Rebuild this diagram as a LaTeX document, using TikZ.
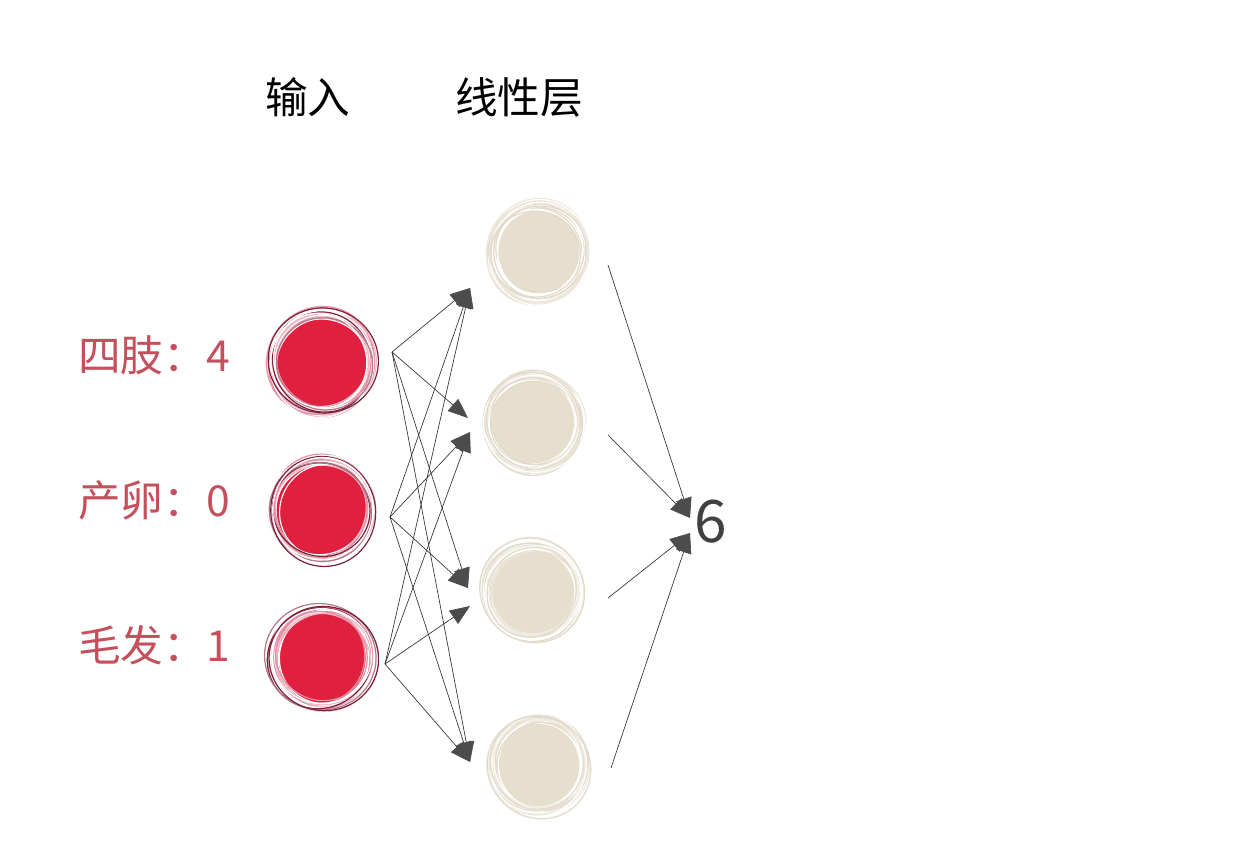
\documentclass[tikz,border=0pt]{standalone}
\usepackage{fontspec}
\usepackage{xcolor}
\newfontfamily\cjk{Noto Sans CJK SC}
\usetikzlibrary{arrows.meta,calc}

\definecolor{inred}{HTML}{E0203F}
\definecolor{ringpink}{HTML}{E58FA3}
\definecolor{ringdark}{HTML}{7A2038}
\definecolor{labred}{HTML}{C4505C}
\definecolor{beige}{HTML}{E7DFCD}
\definecolor{ringbeige}{HTML}{E2DACA}

\tikzset{
  incircle/.style={circle, minimum size=68pt, inner sep=0pt, fill=inred},
  hidcircle/.style={circle, minimum size=62pt, inner sep=0pt, fill=beige},
  wire/.style={black!80, line width=0.5pt,
    -{Triangle[length=15pt, width=12pt, color=black!70, fill=black!70]}},
  label/.style={font=\cjk\fontsize{32}{36}\selectfont, anchor=west, inner sep=0pt},
}

% rings drawn by hand round a circle
\newcommand{\scribble}[5]{%
  \foreach \k in {1,...,#5}{
    \pgfmathsetmacro{\rr}{#2+#3*rnd}
    \pgfmathsetmacro{\dx}{2.5*rand}
    \pgfmathsetmacro{\dy}{2.5*rand}
    \pgfmathsetmacro{\ang}{180*rnd}
    \pgfmathtruncatemacro{\pick}{mod(\k,3)}
    \ifnum\pick=0 \def\rc{#4!60!white}\else\ifnum\pick=1 \def\rc{#4}\else\def\rc{white}\fi\fi
    \draw[line width=0.9pt, \rc]
      ([shift={(\dx,\dy)}]#1) ellipse[x radius=\rr, y radius=\rr*0.95, rotate=\ang];
  }}

\begin{document}
\begin{tikzpicture}[x=0.75pt, y=-0.75pt]
\useasboundingbox[fill=white] (0,0) rectangle (1239,864);
\pgfmathsetseed{7}

% headers
\node[label, text=black] (hin) at (265,97) {输入};
\node[label, text=black] (hlin) at (455,97) {线性层};

% input layer
\foreach \n/\y in {1/362, 2/510, 3/658}{
  \node[incircle] (in\n) at (322,\y) {};
  \scribble{in\n}{46}{10}{ringpink}{14}
  \scribble{in\n}{48}{8}{ringdark}{5}
}
\node[label, text=labred] (lab1) at (78,355) {四肢：4};
\node[label, text=labred] (lab2) at (78,500) {产卵：0};
\node[label, text=labred] (lab3) at (78,645) {毛发：1};

% linear layer
\foreach \n/\x/\y in {1/538/252, 2/533/422, 3/533/592, 4/538/765}{
  \node[hidcircle] (h\n) at (\x,\y) {};
  \scribble{h\n}{43}{11}{ringbeige}{16}
}

\node[inner sep=0pt, anchor=west, text=black!75,
      font=\cjk\fontsize{44}{48}\selectfont] (out) at (694,522) {6};

% wire ends
\coordinate (s1) at (392,352);
\coordinate (s2) at (390,517);
\coordinate (s3) at (385,664);
\coordinate (t1)  at (470,288);
\coordinate (t2a) at (468,418);
\coordinate (t2b) at (470,432);
\coordinate (t3a) at (468,588);
\coordinate (t3b) at (470,606);
\coordinate (t4)  at (470,762);
\coordinate (o1) at (608,265);
\coordinate (o2) at (608,435);
\coordinate (o3) at (608,598);
\coordinate (o4) at (611,768);
\coordinate (e1) at (690,518);
\coordinate (e2) at (690,533);

\foreach \s/\t in {s1/t1, s1/t2a, s1/t3a, s1/t4,
                   s2/t1, s2/t2b, s2/t3a, s2/t4,
                   s3/t1, s3/t2b, s3/t3b, s3/t4}
  \draw[wire] (\s) -- (\t);

\draw[wire] (o1) -- (e1);
\draw[wire] (o2) -- (e1);
\draw[wire] (o3) -- (e2);
\draw[wire] (o4) -- (e2);

\end{tikzpicture}
\end{document}
